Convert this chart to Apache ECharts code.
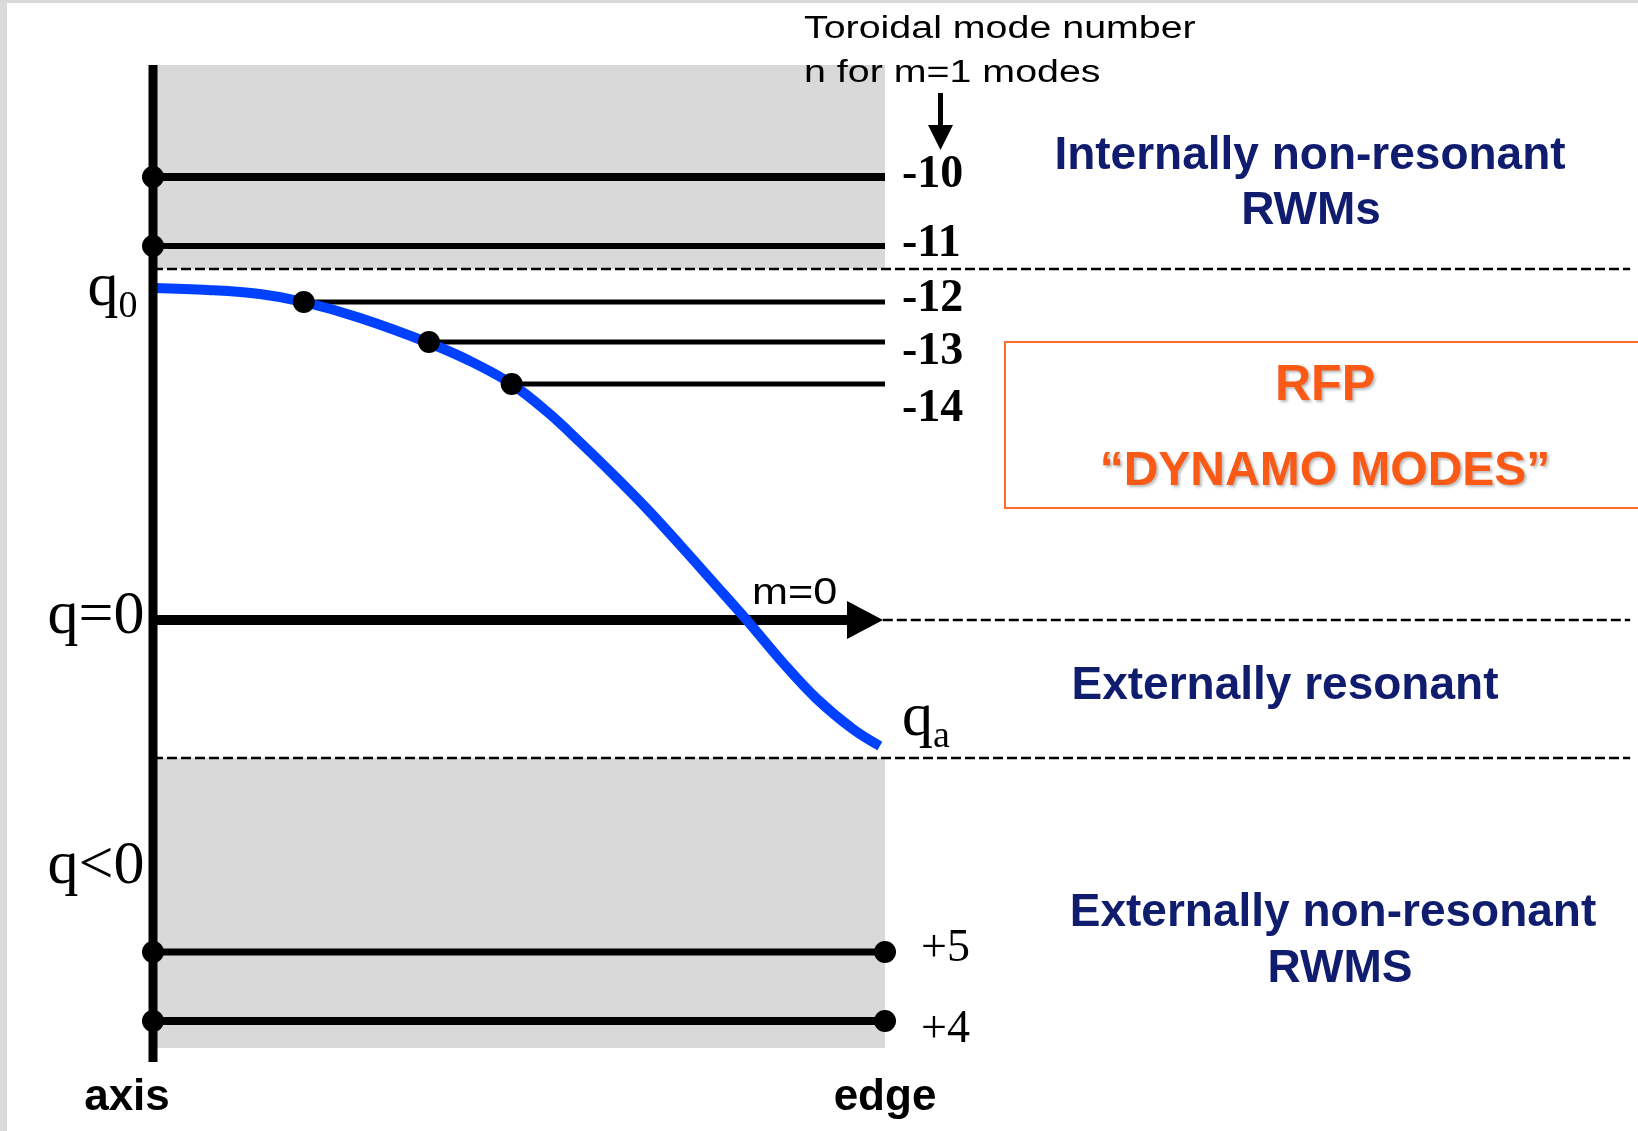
<!DOCTYPE html>
<html>
<head>
<meta charset="utf-8">
<script src="https://cdn.jsdelivr.net/npm/echarts@6/dist/echarts.min.js"></script>
<style>
  html, body { margin: 0; padding: 0; background: #ffffff; }
  #chart { width: 1638px; height: 1131px; }
</style>
</head>
<body>
<div id="chart"></div>
<script>
// Normalised minor radius r/a (0 = magnetic axis, 1 = plasma edge)
const radius = [0, 0.075, 0.146, 0.206, 0.283, 0.377, 0.433, 0.490, 0.542, 0.583,
                0.628, 0.675, 0.720, 0.765, 0.811, 0.862, 0.907, 0.956, 0.993];
// Schematic RFP safety-factor profile q(r); q = 0 at the reversal surface
const qProfile = [33.2, 33.0, 32.6, 31.8, 30.2, 27.7, 25.9, 23.6, 20.6, 17.8,
                  14.6, 11.1, 7.5, 3.8, 0, -4.4, -7.9, -10.9, -12.6];

// m = 1 modes: toroidal mode number, q level, radius where the line starts
const modeNames  = ['-10', '-11', '-12', '-13', '-14', '+5', '+4'];
const modeLevels = [44.3, 37.4, 31.8, 27.8, 23.6, -33.2, -40.1];
const modeStarts = [0, 0, 0.206, 0.377, 0.490, 0, 0];
// modes whose line also ends on a wall-coupled point at the edge
const edgeDotModes = ['+5', '+4'];

// q boundaries of the diagram
const qTop = 55.5;          // top of the internally non-resonant band
const qUpperBound = 35.1;   // just above q0
const qLowerBound = -13.8;  // just below qa
const qBottom = -42.8;      // bottom of the externally non-resonant band
const axisTop = 55.5;
const axisBottom = -44.2;
const farRight = 2.018;     // dashed boundaries run across to the right margin

// axis label levels
const qLabels = [
  { name: 'q0',  level: 33.2 },
  { name: 'q=0', level: 0 },
  { name: 'q<0', level: -25.0 }
];

const SERIF = '"Liberation Serif", "Times New Roman", serif';
const SANS = '"Liberation Sans", Arial, sans-serif';
const NAVY = '#101c6e';
const ORANGE = '#fa5a16';
const BLUE = '#0040ff';

// per-mode drawing style (line width, label font weight, label placement)
const modeStyle = {
  '-10': { w: 8, bold: true, dist: 17, dy: -2 },
  '-11': { w: 6, bold: true, dist: 17, dy: -2 },
  '-12': { w: 5, bold: true, dist: 17, dy: -3 },
  '-13': { w: 5, bold: true, dist: 17, dy: 10 },
  '-14': { w: 5, bold: true, dist: 17, dy: 25 },
  '+5':  { w: 7, bold: false, dist: 36, dy: -3 },
  '+4':  { w: 8, bold: false, dist: 36, dy: 9 }
};

const qRich = {
  q: { fontFamily: SERIF, fontSize: 62, lineHeight: 74, color: '#000' },
  s: { fontFamily: SERIF, fontSize: 38, lineHeight: 38, verticalAlign: 'bottom', color: '#000' }
};

const series = [];

// grey bands of non-resonant modes
series.push({
  type: 'line', z: 0, silent: true, symbol: 'none',
  data: [[0, qTop]], lineStyle: { opacity: 0 },
  markArea: {
    silent: true,
    itemStyle: { color: '#d9d9d9' },
    data: [
      [{ coord: [0, qTop] }, { coord: [1, qUpperBound] }],
      [{ coord: [0, qLowerBound] }, { coord: [1, qBottom] }]
    ]
  }
});

// dashed region boundaries
[[0, qUpperBound], [0, qLowerBound], [0.997, 0]].forEach(function (b) {
  series.push({
    type: 'line', z: 2, silent: true, symbol: 'none',
    data: [[b[0], b[1]], [farRight, b[1]]],
    lineStyle: { color: '#000', width: 2.5, type: [10, 4] }
  });
});

// resonant levels of m = 1 modes
modeNames.forEach(function (n, i) {
  const s = modeStyle[n];
  series.push({
    type: 'line', name: n, z: 3, silent: true, symbol: 'none',
    data: [[modeStarts[i], modeLevels[i]], [1, modeLevels[i]]],
    lineStyle: { color: '#000', width: s.w },
    endLabel: {
      show: true,
      formatter: n,
      distance: s.dist,
      offset: [0, s.dy],
      color: '#000',
      fontFamily: SERIF,
      fontWeight: s.bold ? 'bold' : 'normal',
      fontSize: 46
    }
  });
});

// m = 0 arrow along q = 0
series.push({
  type: 'line', z: 4, silent: true, symbol: 'none',
  data: [
    { value: [0, 0], symbol: 'none' },
    { value: [0.9727, 0], symbol: 'triangle', symbolSize: [38, 36], symbolRotate: -90 }
  ],
  showSymbol: true,
  itemStyle: { color: '#000', opacity: 1 },
  lineStyle: { color: '#000', width: 10 }
});

// q profile
series.push({
  type: 'line', name: 'q', z: 5, silent: true, symbol: 'none',
  smooth: 0.35,
  data: radius.map(function (r, i) { return [r, qProfile[i]]; }),
  lineStyle: { color: BLUE, width: 10 },
  endLabel: {
    show: true,
    formatter: '{q|q}{s|a}',
    distance: 22,
    offset: [0, -27],
    rich: qRich
  }
});

// resonance points
const dots = [];
modeNames.forEach(function (n, i) {
  dots.push([modeStarts[i], modeLevels[i]]);
  if (edgeDotModes.indexOf(n) >= 0) dots.push([1, modeLevels[i]]);
});
series.push({
  type: 'scatter', z: 6, silent: true,
  symbol: 'circle', symbolSize: 22,
  itemStyle: { color: '#000', opacity: 1 },
  data: dots
});

// magnetic axis line with q labels
series.push({
  type: 'line', z: 7, silent: true, symbol: 'none',
  data: [[0, axisTop], [0, axisBottom]],
  lineStyle: { color: '#000', width: 9 },
  markPoint: {
    silent: true,
    symbol: 'circle',
    symbolSize: 1,
    itemStyle: { color: 'rgba(0,0,0,0)' },
    data: qLabels.map(function (l) {
      return {
        coord: [0, l.level],
        label: {
          show: true,
          position: 'left',
          distance: l.name === 'q0' ? 15 : 8,
          offset: l.name === 'q0' ? [0, 1] : [0, -3],
          formatter: l.name === 'q0' ? '{q|q}{s|0}' : l.name,
          fontFamily: SERIF,
          fontSize: 62,
          color: '#000',
          rich: qRich
        }
      };
    })
  }
});

const chart = echarts.init(document.getElementById('chart'), null, { renderer: 'canvas' });

chart.setOption({
  animation: false,
  backgroundColor: '#ffffff',
  grid: { left: 153, top: 60, width: 1478.64, height: 1010, outerBoundsMode: 'none' },
  xAxis: {
    type: 'value', min: 0, max: 2.02, interval: 1,
    axisLine: { show: false }, axisTick: { show: false }, splitLine: { show: false },
    axisLabel: {
      customValues: [0, 1],
      margin: 6,
      formatter: function (v) { return v === 0 ? '{a|axis}' : (v === 1 ? '{e|edge}' : ''); },
      rich: {
        a: { fontFamily: SANS, fontWeight: 'bold', fontSize: 44, color: '#000', padding: [0, 52, 0, 0] },
        e: { fontFamily: SANS, fontWeight: 'bold', fontSize: 44, color: '#000' }
      }
    }
  },
  yAxis: { type: 'value', min: -45, max: 56, show: false },
  series: series,
  graphic: [
    // frame strips
    { type: 'rect', z: 0, shape: { x: 0, y: 0, width: 7, height: 1131 }, style: { fill: '#dadada' } },
    { type: 'rect', z: 0, shape: { x: 0, y: 0, width: 1638, height: 3 }, style: { fill: '#dadada' } },
    // toroidal mode number heading
    { type: 'text', z: 100, x: 804, y: 29, scaleX: 1.27,
      style: { text: 'Toroidal mode number', font: '31px ' + SANS, fill: '#000', textVerticalAlign: 'middle' } },
    { type: 'text', z: 100, x: 804, y: 73, scaleX: 1.27,
      style: { text: 'n for m=1 modes', font: '31px ' + SANS, fill: '#000', textVerticalAlign: 'middle' } },
    { type: 'line', z: 100, shape: { x1: 940.5, y1: 93, x2: 940.5, y2: 128 }, style: { stroke: '#000', lineWidth: 5 } },
    { type: 'polygon', z: 100, shape: { points: [[928, 125], [953, 125], [940.5, 150]] }, style: { fill: '#000' } },
    // m = 0 label
    { type: 'text', z: 100, x: 752, y: 594, scaleX: 1.2,
      style: { text: 'm=0', font: '36px ' + SANS, fill: '#000', textVerticalAlign: 'middle' } },
    // region names
    { type: 'text', z: 100, x: 1310, y: 156,
      style: { text: 'Internally non-resonant', font: 'bold 46px ' + SANS, fill: NAVY, textAlign: 'center', textVerticalAlign: 'middle' } },
    { type: 'text', z: 100, x: 1311, y: 211,
      style: { text: 'RWMs', font: 'bold 46px ' + SANS, fill: NAVY, textAlign: 'center', textVerticalAlign: 'middle' } },
    { type: 'text', z: 100, x: 1285, y: 686,
      style: { text: 'Externally resonant', font: 'bold 46px ' + SANS, fill: NAVY, textAlign: 'center', textVerticalAlign: 'middle' } },
    { type: 'text', z: 100, x: 1333, y: 913,
      style: { text: 'Externally non-resonant', font: 'bold 46px ' + SANS, fill: NAVY, textAlign: 'center', textVerticalAlign: 'middle' } },
    { type: 'text', z: 100, x: 1340, y: 969,
      style: { text: 'RWMS', font: 'bold 46px ' + SANS, fill: NAVY, textAlign: 'center', textVerticalAlign: 'middle' } },
    // RFP dynamo box
    { type: 'rect', z: 100, shape: { x: 1005, y: 342, width: 700, height: 166 },
      style: { fill: 'none', stroke: '#ff6a30', lineWidth: 2 } },
    { type: 'text', z: 100, x: 1325, y: 386,
      style: { text: 'RFP', font: 'bold 50px ' + SANS, fill: ORANGE, textAlign: 'center', textVerticalAlign: 'middle',
               textShadowColor: 'rgba(0,0,0,0.28)', textShadowBlur: 3, textShadowOffsetX: 2, textShadowOffsetY: 2 } },
    { type: 'text', z: 100, x: 1325, y: 472,
      style: { text: '\u201CDYNAMO MODES\u201D', font: 'bold 48px ' + SANS, fill: ORANGE, textAlign: 'center', textVerticalAlign: 'middle',
               textShadowColor: 'rgba(0,0,0,0.28)', textShadowBlur: 3, textShadowOffsetX: 2, textShadowOffsetY: 2 } }
  ]
});
</script>
</body>
</html>
